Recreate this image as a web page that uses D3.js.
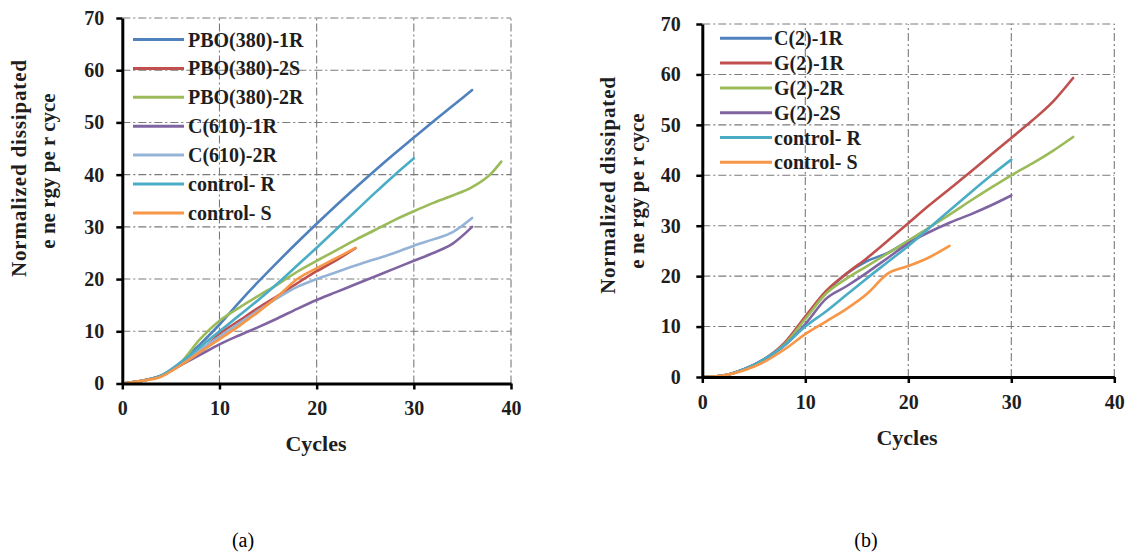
<!DOCTYPE html>
<html>
<head>
<meta charset="utf-8">
<script src="https://cdn.jsdelivr.net/npm/d3@7"></script>
<style>
  html, body { margin: 0; padding: 0; background: #fff; }
  svg { display: block; }
  text { font-family: "Liberation Serif", "Times New Roman", serif; }
</style>
</head>
<body>
<svg id="chart" width="1133" height="554"></svg>
<script>
// ---------------- DATA ----------------
const xTicks = [0, 10, 20, 30, 40];
const yTicks = [0, 10, 20, 30, 40, 50, 60, 70];

// Panel (a)
const cyclesA = [0, 2, 4, 6, 8, 10, 12, 14, 16, 18, 20, 22, 24, 26, 28, 30, 32, 34, 36, 38, 39];
const namesA = ["PBO(380)-1R", "PBO(380)-2S", "PBO(380)-2R", "C(610)-1R", "C(610)-2R", "control- R", "control- S"];
const pbo380_1R = [0, 0.5, 1.5, 4, 7.5, 11.3, 15.5, 19.5, 23.3, 27, 30.6, 34.1, 37.5, 40.8, 44, 47.1, 50.2, 53.2, 56.2];
const pbo380_2S = [0, 0.5, 1.5, 3.5, 6, 9.5, 12, 14.5, 16.8, 19.2, 21.5, 23.6, 25.9];
const pbo380_2R = [0, 0.5, 1.5, 4, 8.5, 12, 14.5, 16.8, 19, 21.4, 23.5, 25.5, 27.5, 29.4, 31.3, 33, 34.6, 36, 37.6, 40.3, 42.5];
const c610_1R   = [0, 0.5, 1.5, 3.5, 5.5, 7.5, 9.2, 10.8, 12.5, 14.3, 16, 17.5, 19, 20.5, 22, 23.5, 25, 26.8, 30];
const c610_2R   = [0, 0.5, 1.5, 4, 6.5, 9, 11.5, 14, 16.4, 18.5, 20, 21.3, 22.6, 23.8, 25, 26.4, 27.6, 29, 31.7];
const controlR_A = [0, 0.5, 1.5, 4, 7, 10, 13, 16, 19.2, 22.6, 26, 29.5, 33, 36.5, 39.9, 43.1];
const controlS_A = [0, 0.5, 1.3, 3.5, 6, 8.5, 11, 13.7, 16.7, 20, 22.1, 24, 26];
const colorsA = ["#4F81BD", "#C0504D", "#9BBB59", "#8064A2", "#95B3D7", "#4BACC6", "#F79646"];

// Panel (b)
const cyclesB = [0, 2, 4, 6, 8, 10, 12, 14, 16, 18, 20, 22, 24, 26, 28, 30, 32, 34, 36];
const namesB = ["C(2)-1R", "G(2)-1R", "G(2)-2R", "G(2)-2S", "control- R", "control- S"];
const c2_1R  = [0, 0.3, 1.5, 3.5, 6.6, 11.8, 16.8, 20.5, 23, 24.6, 27, 29.5];
const g2_1R  = [0, 0.3, 1.5, 3.5, 6.8, 12, 17, 20.5, 23.6, 27, 30.5, 34, 37.3, 40.6, 44, 47.4, 50.8, 54.5, 59.3];
const g2_2R  = [0, 0.3, 1.5, 3.5, 6.5, 11.5, 16.5, 19.5, 22, 24.5, 27, 29.6, 32.2, 34.9, 37.5, 40, 42.3, 44.8, 47.6];
const g2_2S  = [0, 0.3, 1.5, 3.5, 6.3, 10.5, 15.5, 18, 20.7, 23.6, 26.5, 28.7, 30.6, 32.2, 34, 36];
const controlR_B = [0, 0.3, 1.5, 3.5, 6.3, 10, 13, 16.3, 19.6, 22.8, 26, 29.5, 33, 36.5, 39.9, 43.1];
const controlS_B = [0, 0.3, 1.3, 3, 5.5, 8.5, 11, 13.5, 16.5, 20.5, 22, 23.7, 26];
const colorsB = ["#4F81BD", "#C0504D", "#9BBB59", "#8064A2", "#4BACC6", "#F79646"];

const yTitle1 = "Normalized dissipated";
const yTitle2 = "e ne rgy pe r cyce";
const xTitle = "Cycles";
const captions = ["(a)", "(b)"];

// ---------------- DRAW ----------------
const svg = d3.select("#chart");
const FONT = '"Liberation Serif", "Times New Roman", serif';

function drawPanel(cfg) {
  const x = d3.scaleLinear().domain([0, 40]).range(cfg.xr);
  const y = d3.scaleLinear().domain([0, 70]).range(cfg.yr);
  const g = svg.append("g");

  // grid
  const grid = g.append("g").attr("stroke", "#7a7a7a").attr("stroke-width", 1.1)
    .attr("stroke-dasharray", "8,3,2,3").attr("fill", "none");
  yTicks.filter(v => v > 0).forEach(v => {
    grid.append("line").attr("x1", x(0)).attr("x2", x(40)).attr("y1", y(v)).attr("y2", y(v));
  });
  xTicks.filter(v => v > 0).forEach(v => {
    grid.append("line").attr("x1", x(v)).attr("x2", x(v)).attr("y1", y(0)).attr("y2", y(70));
  });

  // series
  const line = d3.line()
    .x(d => x(d[0])).y(d => y(d[1]))
    .curve(d3.curveMonotoneX);
  cfg.series.forEach((vals, i) => {
    const pts = vals.map((v, j) => [cfg.cycles[j], v]).filter(d => d[1] != null);
    g.append("path").datum(pts).attr("d", line)
      .attr("fill", "none").attr("stroke", cfg.colors[i])
      .attr("stroke-width", 2.6).attr("stroke-linejoin", "round").attr("stroke-linecap", "round");
  });

  // axes
  const ya = g.append("g").attr("transform", `translate(${x(0)},0)`)
    .call(d3.axisLeft(y).tickValues(yTicks).tickSize(6).tickSizeOuter(0).tickPadding(cfg.yPad));
  const xa = g.append("g").attr("transform", `translate(0,${y(0)})`)
    .call(d3.axisBottom(x).tickValues(xTicks).tickSize(6).tickSizeOuter(0).tickPadding(cfg.xPad));
  [ya, xa].forEach(a => {
    a.attr("font-family", FONT);
    a.select(".domain").attr("stroke", "#000").attr("stroke-width", 3);
    a.selectAll(".tick line").attr("stroke", "#000").attr("stroke-width", 2.5);
    a.selectAll("text").attr("fill", "#1e1e1e").attr("font-size", 20).attr("font-weight", "bold")
      .attr("font-family", FONT);
  });

  // legend
  cfg.names.forEach((n, i) => {
    const ly = cfg.leg.y0 + i * cfg.leg.dy;
    g.append("line").attr("x1", cfg.leg.x1).attr("x2", cfg.leg.x2).attr("y1", ly).attr("y2", ly)
      .attr("stroke", cfg.colors[i]).attr("stroke-width", 3);
    g.append("text").attr("x", cfg.leg.tx).attr("y", ly).attr("dominant-baseline", "central")
      .attr("font-size", 20).attr("font-weight", "bold").attr("fill", "#1e1e1e").text(n);
  });

  // axis titles
  g.append("text").attr("transform", `translate(${cfg.yt1[0]},${cfg.yt1[1]}) rotate(-90)`)
    .attr("text-anchor", "middle").attr("dominant-baseline", "central")
    .attr("font-size", 21).attr("font-weight", "bold").attr("fill", "#1e1e1e")
    .attr("textLength", 217).attr("lengthAdjust", "spacing").text(yTitle1);
  g.append("text").attr("transform", `translate(${cfg.yt2[0]},${cfg.yt2[1]}) rotate(-90)`)
    .attr("text-anchor", "middle").attr("dominant-baseline", "central")
    .attr("font-size", 21).attr("font-weight", "bold").attr("fill", "#1e1e1e").text(yTitle2);
  g.append("text").attr("x", cfg.xt[0]).attr("y", cfg.xt[1])
    .attr("text-anchor", "middle").attr("dominant-baseline", "central")
    .attr("font-size", 22).attr("font-weight", "bold").attr("fill", "#1e1e1e").text(xTitle);

  // caption
  g.append("text").attr("x", cfg.cap[0]).attr("y", cfg.cap[1])
    .attr("text-anchor", "middle").attr("dominant-baseline", "central")
    .attr("font-size", 20).attr("fill", "#000").text(cfg.caption);
}

drawPanel({
  xr: [122.3, 511], yr: [383.5, 18],
  cycles: cyclesA,
  series: [pbo380_1R, pbo380_2S, pbo380_2R, c610_1R, c610_2R, controlR_A, controlS_A],
  names: namesA, colors: colorsA,
  yPad: 12, xPad: 11,
  leg: { x1: 133, x2: 184, tx: 188, y0: 39.5, dy: 28.9 },
  yt1: [19, 168.5], yt2: [48, 171], xt: [316, 443],
  cap: [243, 540], caption: captions[0]
});

drawPanel({
  xr: [702.3, 1114.3], yr: [377, 24],
  cycles: cyclesB,
  series: [c2_1R, g2_1R, g2_2R, g2_2S, controlR_B, controlS_B],
  names: namesB, colors: colorsB,
  yPad: 15.5, xPad: 12,
  leg: { x1: 720, x2: 772, tx: 774, y0: 38.3, dy: 24.8 },
  yt1: [608, 185.5], yt2: [637, 191], xt: [907, 437],
  cap: [866, 540], caption: captions[1]
});
</script>
</body>
</html>
